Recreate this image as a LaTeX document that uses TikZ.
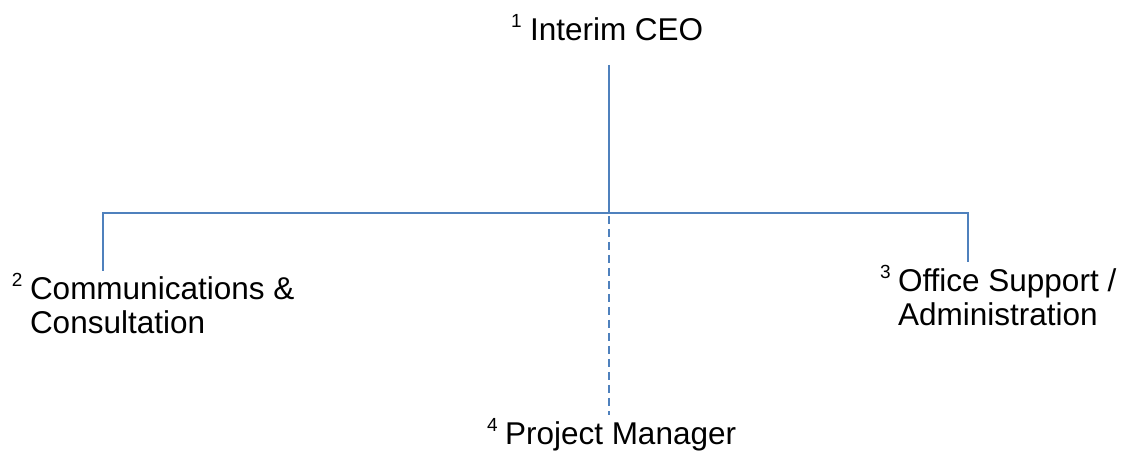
\documentclass[tikz,border=0pt]{standalone}
\usepackage{fontspec}
\setmainfont{Liberation Sans}
\definecolor{orgblue}{RGB}{79,129,189}
\begin{document}
\begin{tikzpicture}[x=1pt,y=-1pt,
  orgline/.style={draw=orgblue,line width=2pt},
  orgdash/.style={orgline,dash pattern=on 8pt off 5pt},
  lbl/.style={inner sep=0pt,outer sep=0pt,anchor=base west,align=left,
    font=\fontsize{31.5}{34}\selectfont},
  sup/.style={inner sep=0pt,outer sep=0pt,anchor=base west,
    font=\fontsize{19}{20}\selectfont}]
\useasboundingbox (0,0) rectangle (1125,454);
% labels
\node[lbl] (ceo) at (530,41) {Interim CEO};
\node[sup] (s1) at (511,28) {1};
\node[lbl] (comm) at (30,334) {Communications \&\\Consultation};
\node[sup] (s2) at (12,287) {2};
\node[lbl] (off) at (898,326) {Office Support /\\Administration};
\node[sup] (s3) at (880,279) {3};
\node[lbl] (pm) at (505,444) {Project Manager};
\node[sup] (s4) at (487,431) {4};
% connector points
\coordinate (top) at (609,65);
\coordinate (bus) at (609,213);
\coordinate (busL) at (103,213);
\coordinate (busR) at (968,213);
\coordinate (dropL) at (103,271);
\coordinate (dropR) at (968,262);
\coordinate (pmtop) at (609,415);
% connectors
\draw[orgline] (top) -- (bus);
\draw[orgline] (dropL) -- (busL) -- (busR) -- (dropR);
\draw[orgdash] (bus) ++(0,3) -- (pmtop);
\end{tikzpicture}
\end{document}
